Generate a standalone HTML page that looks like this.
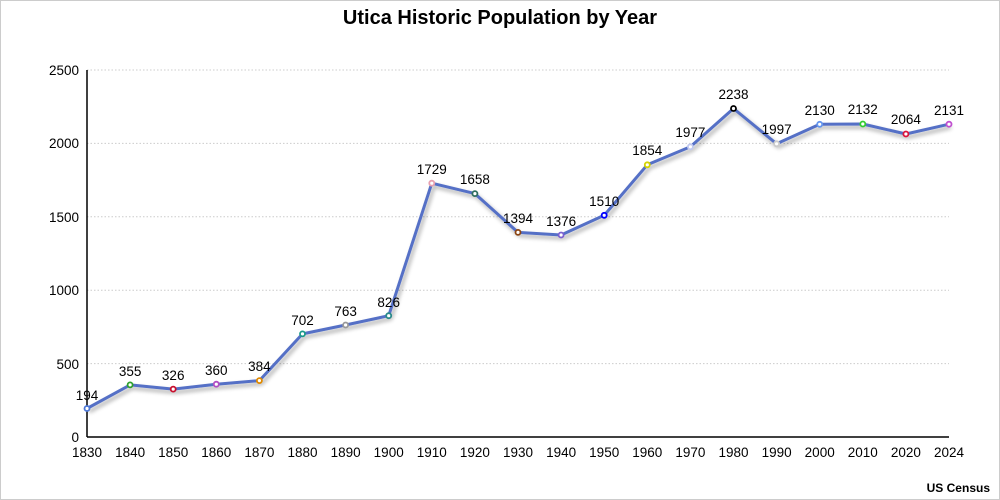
<!DOCTYPE html>
<html><head><meta charset="utf-8"><style>
html,body{margin:0;padding:0;background:#fff}
svg{display:block;font-family:"Liberation Sans",Arial,sans-serif}
</style></head><body>
<svg width="1000" height="500" viewBox="0 0 1000 500" xmlns="http://www.w3.org/2000/svg">
<defs><filter id="sh" x="-5%" y="-10%" width="110%" height="130%"><feGaussianBlur in="SourceAlpha" stdDeviation="2"/><feOffset dx="2" dy="3"/><feComponentTransfer><feFuncA type="linear" slope="0.35"/></feComponentTransfer><feMerge><feMergeNode/><feMergeNode in="SourceGraphic"/></feMerge></filter></defs>
<rect x="0.5" y="0.5" width="999" height="499" fill="#fff" stroke="#ccc"/>
<text x="500" y="24" text-anchor="middle" font-size="20" font-weight="bold">Utica Historic Population by Year</text>
<g stroke="#ccc" stroke-dasharray="1.5,2" stroke-width="1">
<line x1="87" x2="949" y1="363.6" y2="363.6"/><line x1="87" x2="949" y1="290.2" y2="290.2"/><line x1="87" x2="949" y1="216.8" y2="216.8"/><line x1="87" x2="949" y1="143.4" y2="143.4"/><line x1="87" x2="949" y1="70" y2="70"/>
</g>
<g stroke="#000" stroke-width="1.5"><line x1="87" y1="70" x2="87" y2="437"/><line x1="87" y1="437" x2="949" y2="437"/></g>
<g font-size="13.5" text-anchor="end">
<text x="79" y="442">0</text><text x="79" y="369">500</text><text x="79" y="295">1000</text><text x="79" y="222">1500</text><text x="79" y="148">2000</text><text x="79" y="75">2500</text>
</g>
<g font-size="13.5" text-anchor="middle">
<text x="87" y="457">1830</text><text x="130.1" y="457">1840</text><text x="173.2" y="457">1850</text><text x="216.3" y="457">1860</text><text x="259.4" y="457">1870</text><text x="302.5" y="457">1880</text><text x="345.6" y="457">1890</text><text x="388.7" y="457">1900</text><text x="431.8" y="457">1910</text><text x="474.9" y="457">1920</text><text x="518" y="457">1930</text><text x="561.1" y="457">1940</text><text x="604.2" y="457">1950</text><text x="647.3" y="457">1960</text><text x="690.4" y="457">1970</text><text x="733.5" y="457">1980</text><text x="776.6" y="457">1990</text><text x="819.7" y="457">2000</text><text x="862.8" y="457">2010</text><text x="905.9" y="457">2020</text><text x="949" y="457">2024</text>
</g>
<polyline filter="url(#sh)" fill="none" stroke="#5470c6" stroke-width="3" stroke-linejoin="round" points="87,408.5 130.1,384.9 173.2,389.1 216.3,384.2 259.4,380.6 302.5,333.9 345.6,325 388.7,315.7 431.8,183.2 474.9,193.6 518,232.4 561.1,235 604.2,215.3 647.3,164.8 690.4,146.8 733.5,108.5 776.6,143.8 819.7,124.3 862.8,124 905.9,134 949,124.2"/>
<g fill="#fff" stroke-width="1.8">
<circle cx="87" cy="408.5" r="2.5" stroke="#4e79d8"/><circle cx="130.1" cy="384.9" r="2.5" stroke="#2ca02c"/><circle cx="173.2" cy="389.1" r="2.5" stroke="#c8102e"/><circle cx="216.3" cy="384.2" r="2.5" stroke="#b24fc4"/><circle cx="259.4" cy="380.6" r="2.5" stroke="#e08a00"/><circle cx="302.5" cy="333.9" r="2.5" stroke="#1a9a8a"/><circle cx="345.6" cy="325" r="2.5" stroke="#999"/><circle cx="388.7" cy="315.7" r="2.5" stroke="#2a8a8a"/><circle cx="431.8" cy="183.2" r="2.5" stroke="#e8a0b0"/><circle cx="474.9" cy="193.6" r="2.5" stroke="#2f6f5f"/><circle cx="518" cy="232.4" r="2.5" stroke="#8b4513"/><circle cx="561.1" cy="235" r="2.5" stroke="#7b5fd0"/><circle cx="604.2" cy="215.3" r="2.5" stroke="#0000ff"/><circle cx="647.3" cy="164.8" r="2.5" stroke="#d4d400"/><circle cx="690.4" cy="146.8" r="2.5" stroke="#c0c8f0"/><circle cx="733.5" cy="108.5" r="2.5" stroke="#000"/><circle cx="776.6" cy="143.8" r="2.5" stroke="#ccc"/><circle cx="819.7" cy="124.3" r="2.5" stroke="#6495ed"/><circle cx="862.8" cy="124" r="2.5" stroke="#32cd32"/><circle cx="905.9" cy="134" r="2.5" stroke="#dc143c"/><circle cx="949" cy="124.2" r="2.5" stroke="#c050d0"/>
</g>
<g font-size="13.5" text-anchor="middle">
<text x="87" y="400">194</text><text x="130.1" y="376">355</text><text x="173.2" y="380">326</text><text x="216.3" y="375">360</text><text x="259.4" y="371">384</text><text x="302.5" y="325">702</text><text x="345.6" y="316">763</text><text x="388.7" y="307">826</text><text x="431.8" y="174">1729</text><text x="474.9" y="184">1658</text><text x="518" y="223">1394</text><text x="561.1" y="226">1376</text><text x="604.2" y="206">1510</text><text x="647.3" y="155">1854</text><text x="690.4" y="137">1977</text><text x="733.5" y="99">2238</text><text x="776.6" y="134">1997</text><text x="819.7" y="115">2130</text><text x="862.8" y="114">2132</text><text x="905.9" y="124">2064</text><text x="949" y="115">2131</text>
</g>
<text x="990" y="492" text-anchor="end" font-size="12" font-weight="bold">US Census</text>
</svg>
</body></html>
